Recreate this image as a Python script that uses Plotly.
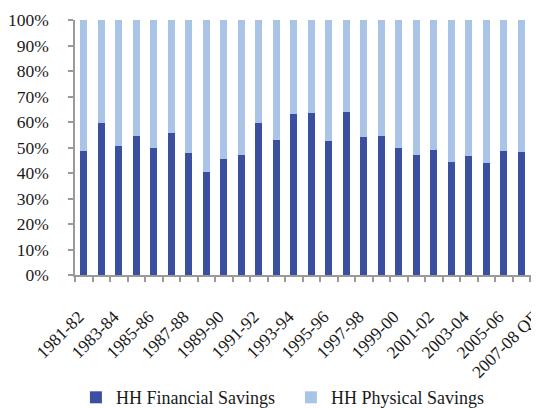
import plotly.graph_objects as go

categories = ["1981-82", "1982-83", "1983-84", "1984-85", "1985-86", "1986-87",
              "1987-88", "1988-89", "1989-90", "1990-91", "1991-92", "1992-93",
              "1993-94", "1994-95", "1995-96", "1996-97", "1997-98", "1998-99",
              "1999-00", "2000-01", "2001-02", "2002-03", "2003-04", "2004-05",
              "2005-06", "2006-07", "2007-08 QE"]
financial = [48.6, 59.7, 50.6, 54.5, 49.9, 55.8, 47.8, 40.4, 45.6, 47.1, 59.7, 52.8,
             63.1, 63.7, 52.4, 63.8, 54.1, 54.5, 49.8, 47.1, 48.9, 44.3, 46.5, 44.0,
             48.5, 48.2, 47.8]
physical = [round(100 - v, 1) for v in financial]
y_ticks = [0, 10, 20, 30, 40, 50, 60, 70, 80, 90, 100]

x = list(range(len(categories)))
label_idx = x[::2]

dark = "#3B4FA0"
light = "#AAC4E7"
font = "Liberation Serif, Times New Roman, serif"

fig = go.Figure()
fig.add_trace(go.Bar(x=x, y=financial, name="HH Financial Savings",
                     marker=dict(color=dark, line=dict(width=0)), width=0.38))
fig.add_trace(go.Bar(x=x, y=physical, name="HH Physical Savings",
                     marker=dict(color=light, line=dict(width=0)), width=0.38))

fig.update_layout(
    barmode="stack",
    width=531, height=400,
    margin=dict(l=67, r=0, t=12, b=133),
    plot_bgcolor="white", paper_bgcolor="white",
    font=dict(family=font, size=18, color="#1a1a1a"),
    showlegend=True,
    legend=dict(orientation="h", traceorder="normal",
                x=0.002, xanchor="left",
                yref="container", y=0.026, yanchor="middle",
                entrywidth=170, entrywidthmode="pixels",
                font=dict(family=font, size=18, color="#1a1a1a"),
                bgcolor="rgba(0,0,0,0)"),
)
fig.update_xaxes(
    range=[-0.5, 26.01], automargin=False,
    tickmode="array", tickvals=label_idx,
    ticktext=[categories[i] for i in label_idx],
    tickangle=-45, ticks="", tickfont=dict(size=17.5),
    ticklabeloverflow="allow", ticklabelstandoff=23, ticklabelshift=-5,
    showline=True, linecolor="#9a9a9a", linewidth=1.5,
    showgrid=False, zeroline=False,
    minor=dict(ticks="outside", tick0=-0.5, dtick=1, ticklen=5,
               tickcolor="#9a9a9a", tickwidth=1.5, showgrid=False),
)
fig.update_yaxes(
    range=[0, 100], automargin=False, tickmode="array", tickvals=y_ticks,
    ticktext=[f"{v}%" for v in y_ticks],
    ticks="outside", ticklen=5, tickcolor="#9a9a9a", tickwidth=1.5,
    showline=True, linecolor="#9a9a9a", linewidth=1.5,
    showgrid=False, zeroline=False, tickfont=dict(size=17.5),
    ticklabelstandoff=16,
)

fig.write_html("out.html")
